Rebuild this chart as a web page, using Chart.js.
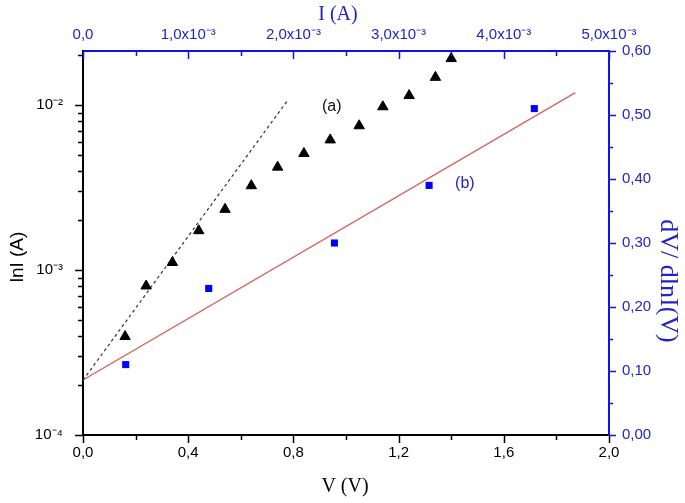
<!DOCTYPE html>
<html>
<head>
<meta charset="utf-8">
<script src="https://cdn.jsdelivr.net/npm/chart.js@4.4.0/dist/chart.umd.min.js"></script>
<style>
  html, body { margin: 0; padding: 0; background: #fff; }
  #wrap { width: 685px; height: 503px; }
</style>
</head>
<body>
<div id="wrap"><canvas id="cheungChart"></canvas></div>
<script>
// (a) I-V on log scale (triangles), bottom V axis / left log axis
const voltA = [0.16, 0.24, 0.34, 0.44, 0.54, 0.64, 0.74, 0.84, 0.94, 1.05, 1.14, 1.24, 1.34, 1.40];
const currA = [3.95e-4, 8.0e-4, 1.11e-3, 1.73e-3, 2.33e-3, 3.24e-3, 4.20e-3, 5.08e-3, 6.14e-3, 7.48e-3, 9.75e-3, 1.14e-2, 1.47e-2, 1.91e-2];
// dashed fit of the linear region
const fitAVolt = [0, 0.775];
const fitACurr = [2.15e-4, 1.05e-2];

// (b) dV/dlnI vs I (squares), top I axis / right axis
const currB = [4.06e-4, 1.195e-3, 2.39e-3, 3.29e-3, 4.29e-3];
const slopeB = [0.110, 0.229, 0.300, 0.390, 0.510];
const fitBCurr = [0, 4.68e-3];
const fitBSlope = [0.086, 0.535];

// axis ticks and labels
const vTicks = [0, 0.4, 0.8, 1.2, 1.6, 2.0];
const vLabels = ['0,0', '0,4', '0,8', '1,2', '1,6', '2,0'];
const iTicks = [0, 1e-3, 2e-3, 3e-3, 4e-3, 5e-3];
const iLabels = ['0,0', '1,0x10\u207B\u00B3', '2,0x10\u207B\u00B3', '3,0x10\u207B\u00B3', '4,0x10\u207B\u00B3', '5,0x10\u207B\u00B3'];
const lnTicks = [1e-4, 1e-3, 1e-2];
const lnLabels = ['10\u207B\u2074', '10\u207B\u00B3', '10\u207B\u00B2'];
const slopeTicks = [0, 0.1, 0.2, 0.3, 0.4, 0.5, 0.6];
const slopeLabels = ['0,00', '0,10', '0,20', '0,30', '0,40', '0,50', '0,60'];

const BLUE = '#1010f0';
const BLUE_TEXT = '#2222c8';
const tickFont = { family: "'Liberation Sans', Arial, sans-serif", size: 15 };

const pts = (xs, ys) => xs.map((x, i) => ({ x: x, y: ys[i] }));
const useTicks = list => axis => { axis.ticks = list.map(v => ({ value: v })); };

function minorsBetween(major) {
    const out = [];
    for (let i = 0; i < major.length - 1; i++) out.push((major[i] + major[i + 1]) / 2);
    return out;
}
function logMinors(min, max) {
    const out = [];
    for (let e = -4; e <= -2; e++) {
        for (let m = 2; m <= 9; m++) {
            const v = m * Math.pow(10, e);
            if (v > min && v < max) out.push(v);
        }
    }
    return out;
}

// draws tick marks, axis titles and the (a)/(b) tags
const axisDecor = {
    id: 'axisDecor',
    afterDraw(chart) {
        const ctx = chart.ctx;
        const area = chart.chartArea;
        const s = chart.scales;
        ctx.save();
        ctx.lineWidth = 1.5;

        function hTicks(scale, values, y, len, color) {
            ctx.strokeStyle = color;
            ctx.beginPath();
            values.forEach(v => {
                const x = Math.round(scale.getPixelForValue(v)) + 0.5;
                ctx.moveTo(x, y);
                ctx.lineTo(x, y + len);
            });
            ctx.stroke();
        }
        function vTicksDraw(scale, values, x, len, color) {
            ctx.strokeStyle = color;
            ctx.beginPath();
            values.forEach(v => {
                const y = Math.round(scale.getPixelForValue(v)) + 0.5;
                ctx.moveTo(x, y);
                ctx.lineTo(x + len, y);
            });
            ctx.stroke();
        }

        // bottom: outside
        hTicks(s.x, vTicks, area.bottom, 8, '#000');
        hTicks(s.x, minorsBetween(vTicks), area.bottom, 5, '#000');
        // top: inside
        hTicks(s.xTop, iTicks, area.top, 8, BLUE);
        hTicks(s.xTop, minorsBetween(iTicks), area.top, 5, BLUE);
        // left: outside
        vTicksDraw(s.y, lnTicks, area.left, -8, '#000');
        vTicksDraw(s.y, logMinors(s.y.min, s.y.max), area.left, -5, '#000');
        // right: outside
        vTicksDraw(s.yRight, slopeTicks, area.right, 7, BLUE);
        vTicksDraw(s.yRight, minorsBetween(slopeTicks), area.right, 4, BLUE);

        // axis titles
        const serif = "'Liberation Serif', 'Times New Roman', serif";
        ctx.textAlign = 'center';
        ctx.textBaseline = 'middle';
        ctx.fillStyle = '#000';
        ctx.font = '20px ' + serif;
        ctx.fillText('V (V)', 345, 487);
        ctx.fillStyle = BLUE_TEXT;
        ctx.fillText('I (A)', 338, 15);

        ctx.save();
        ctx.translate(18, 257);
        ctx.rotate(-Math.PI / 2);
        ctx.fillStyle = '#000';
        ctx.font = "19px 'Liberation Sans', Arial, sans-serif";
        ctx.fillText('lnI (A)', 0, 0);
        ctx.restore();

        ctx.save();
        ctx.translate(668, 281);
        ctx.rotate(Math.PI / 2);
        ctx.fillStyle = BLUE_TEXT;
        ctx.font = '26px ' + serif;
        ctx.fillText('dV/ dlnI(V)', 0, 0);
        ctx.restore();

        // series tags
        ctx.font = "16px 'Liberation Sans', Arial, sans-serif";
        ctx.fillStyle = '#111';
        ctx.fillText('(a)', s.x.getPixelForValue(0.946), s.y.getPixelForValue(9.8e-3));
        ctx.fillStyle = BLUE_TEXT;
        ctx.fillText('(b)', s.xTop.getPixelForValue(3.63e-3), s.yRight.getPixelForValue(0.393));

        ctx.restore();
    }
};

const noGrid = { display: false, drawTicks: false };

new Chart(document.getElementById('cheungChart'), {
    type: 'scatter',
    data: {
        datasets: [
            {
                label: '(a)',
                data: pts(voltA, currA),
                xAxisID: 'x',
                yAxisID: 'y',
                pointStyle: 'triangle',
                pointRadius: 6,
                backgroundColor: '#000',
                borderColor: '#000',
                borderWidth: 1,
                clip: false
            },
            {
                label: 'fit (a)',
                data: pts(fitAVolt, fitACurr),
                xAxisID: 'x',
                yAxisID: 'y',
                showLine: true,
                pointRadius: 0,
                borderColor: '#333',
                borderWidth: 1.2,
                borderDash: [3, 3]
            },
            {
                label: '(b)',
                data: pts(currB, slopeB),
                xAxisID: 'xTop',
                yAxisID: 'yRight',
                pointStyle: 'rect',
                pointRadius: 5,
                backgroundColor: '#0000ff',
                borderColor: '#0000ff',
                borderWidth: 0
            },
            {
                label: 'fit (b)',
                data: pts(fitBCurr, fitBSlope),
                xAxisID: 'xTop',
                yAxisID: 'yRight',
                showLine: true,
                pointRadius: 0,
                borderColor: '#d8605e',
                borderWidth: 1.3
            }
        ]
    },
    options: {
        responsive: true,
        maintainAspectRatio: false,
        animation: false,
        layout: { padding: 0 },
        plugins: {
            legend: { display: false },
            tooltip: { enabled: false }
        },
        scales: {
            x: {
                type: 'linear',
                position: 'bottom',
                min: 0,
                max: 2,
                afterBuildTicks: useTicks(vTicks),
                afterFit: sc => { sc.height = 68; },
                grid: noGrid,
                border: { display: true, color: '#000', width: 2 },
                ticks: { callback: (v, i) => vLabels[i], color: '#000', font: tickFont, padding: 9, maxRotation: 0, autoSkip: false }
            },
            xTop: {
                type: 'linear',
                position: 'top',
                min: 0,
                max: 5e-3,
                afterBuildTicks: useTicks(iTicks),
                afterFit: sc => { sc.height = 51; },
                grid: noGrid,
                border: { display: true, color: BLUE, width: 2 },
                ticks: { callback: (v, i) => iLabels[i], color: BLUE_TEXT, font: tickFont, padding: 7, maxRotation: 0, autoSkip: false }
            },
            y: {
                type: 'logarithmic',
                position: 'left',
                min: 1e-4,
                max: Math.pow(10, -1.673),
                afterBuildTicks: useTicks(lnTicks),
                afterFit: sc => { sc.width = 83; },
                grid: noGrid,
                border: { display: true, color: '#000', width: 2 },
                ticks: { callback: (v, i) => lnLabels[i], color: '#000', font: tickFont, padding: 20, autoSkip: false }
            },
            yRight: {
                type: 'linear',
                position: 'right',
                min: 0,
                max: 0.6,
                afterBuildTicks: useTicks(slopeTicks),
                afterFit: sc => { sc.width = 76; },
                grid: noGrid,
                border: { display: true, color: BLUE, width: 2 },
                ticks: { callback: (v, i) => slopeLabels[i], color: BLUE_TEXT, font: tickFont, padding: 13, autoSkip: false }
            }
        }
    },
    plugins: [axisDecor]
});
</script>
</body>
</html>
